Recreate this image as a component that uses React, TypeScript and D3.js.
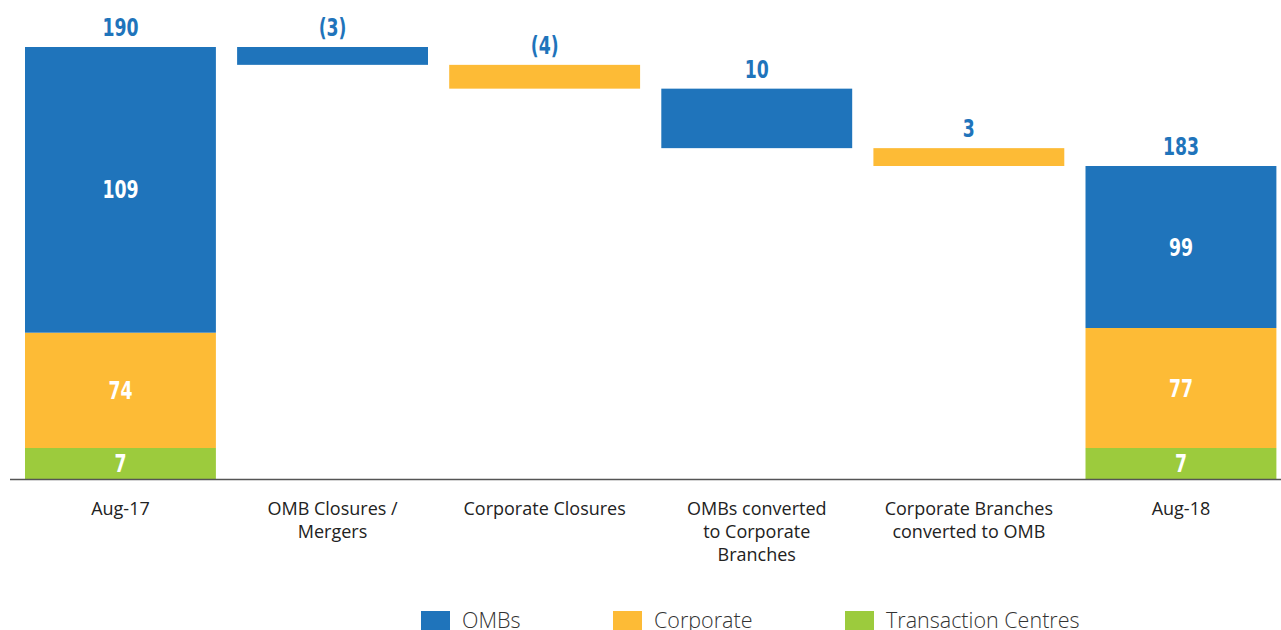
import React from "react";
import * as d3 from "d3";

const categories = [
  "Aug-17",
  "OMB Closures / Mergers",
  "Corporate Closures",
  "OMBs converted to Corporate Branches",
  "Corporate Branches converted to OMB",
  "Aug-18",
];
const categoryLines = [
  ["Aug-17"],
  ["OMB Closures /", "Mergers"],
  ["Corporate Closures"],
  ["OMBs converted", "to Corporate", "Branches"],
  ["Corporate Branches", "converted to OMB"],
  ["Aug-18"],
];
const seriesNames = ["Transaction Centres", "Corporate", "OMBs"];
const aug17Values = [7, 74, 109];
const aug18Values = [7, 77, 99];
const stepValues = [3, 4, 10, 3];
const stepKinds = ["closure", "closure", "transfer", "transfer"];
const stepSeries = ["OMBs", "Corporate", "OMBs", "Corporate"];
const legendOrder = ["OMBs", "Corporate", "Transaction Centres"];

const COLORS: Record<string, string> = {
  OMBs: "#1f74bb",
  Corporate: "#fdbb36",
  "Transaction Centres": "#9ccb3d",
};

const W = 1281;
const H = 630;
const BASE = 479;

export default function App() {
  const x = d3
    .scaleBand<string>()
    .domain(categories)
    .range([14.4, 1287])
    .paddingInner(0.1)
    .paddingOuter(0.05);

  const startTotal = d3.sum(aug17Values);
  const levels: number[] = [startTotal];
  stepValues.forEach((v) => levels.push(levels[levels.length - 1] - v));
  const endLevel = levels[levels.length - 1];

  // not-to-scale (broken) value axis, as in the original infographic
  const y = d3
    .scaleLinear()
    .domain([0, aug17Values[0], aug18Values[0] + aug18Values[1], endLevel, startTotal])
    .range([BASE, 448, 328, 166, 47]);

  const bw = x.bandwidth();
  const numFont = "'DejaVu Sans Condensed', 'DejaVu Sans', sans-serif";
  const textFont = "'Open Sans', Lato, sans-serif";

  const numText = (key: string, cx: number, cy: number, fill: string, content: string, middle = false) => (
    <text
      key={key}
      transform={`translate(${cx},${cy}) scale(0.8,1)`}
      dy={middle ? "0.36em" : 0}
      textAnchor="middle"
      fill={fill}
      fontFamily={numFont}
      fontWeight="bold"
      fontSize={24}
    >
      {content}
    </text>
  );

  const stack = (cat: string, vals: number[], topLevel: number) => {
    const x0 = x(cat)!;
    let cum = 0;
    const segs = vals.map((v, i) => {
      const lo = cum;
      cum += v;
      const hi = i === vals.length - 1 ? topLevel : cum;
      return { lo, hi, v, name: seriesNames[i] };
    });
    const total = d3.sum(vals);
    return (
      <g key={cat}>
        {segs.map((s) => (
          <g key={s.name}>
            <rect x={x0} y={y(s.hi)} width={bw} height={y(s.lo) - y(s.hi)} fill={COLORS[s.name]} />
            {numText("v", x0 + bw / 2, (y(s.lo) + y(s.hi)) / 2, "#fff", String(s.v), true)}
          </g>
        ))}
        {numText("t", x0 + bw / 2, y(topLevel) - 11, COLORS.OMBs, String(total))}
      </g>
    );
  };

  return (
    <svg width={W} height={H} style={{ position: "absolute", left: 0, top: 0 }}>
      <rect width={W} height={H} fill="#fff" />
      {stack(categories[0], aug17Values, startTotal)}
      {stepValues.map((v, i) => {
        const cat = categories[i + 1];
        const top = levels[i];
        const bot = levels[i + 1];
        const label = stepKinds[i] === "closure" ? `(${v})` : `${v}`;
        return (
          <g key={cat}>
            <rect x={x(cat)!} y={y(top)} width={bw} height={y(bot) - y(top)} fill={COLORS[stepSeries[i]]} />
            {numText("l", x(cat)! + bw / 2, y(top) - 11, COLORS.OMBs, label)}
          </g>
        );
      })}
      {stack(categories[5], aug18Values, endLevel)}
      <line x1={10} x2={W} y1={BASE + 0.5} y2={BASE + 0.5} stroke="#555" strokeWidth={1.5} />
      {categories.map((c, i) => (
        <text
          key={c}
          x={x(c)! + bw / 2}
          y={515}
          textAnchor="middle"
          fill="#222"
          fontFamily={textFont}
          fontSize={18}
        >
          {categoryLines[i].map((ln, j) => (
            <tspan key={j} x={x(c)! + bw / 2} dy={j === 0 ? 0 : 23}>
              {ln}
            </tspan>
          ))}
        </text>
      ))}
      {legendOrder.map((name, i) => {
        const lx = [421, 613, 845][i];
        return (
          <g key={name}>
            <rect x={lx} y={611} width={29} height={29} fill={COLORS[name]} />
            <text x={lx + 41} y={628} fill="#333" fontFamily={textFont} fontWeight={300} fontSize={21.5}>
              {name}
            </text>
          </g>
        );
      })}
    </svg>
  );
}
